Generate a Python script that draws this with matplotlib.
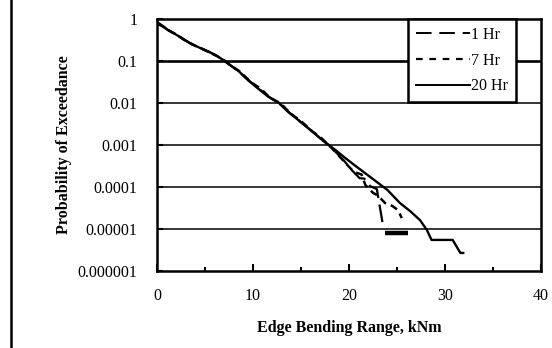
import matplotlib
matplotlib.use("Agg")
import matplotlib.pyplot as plt
import numpy as np
from matplotlib.lines import Line2D

# ---- data (probabilities as log10) ----
x_1hr = [0.1, 0.6, 1.2, 2.0, 2.7, 3.5, 4.5, 5.4, 6.25, 7.0, 7.6, 8.6, 9.6, 10.7, 11.7, 12.8,
         13.8, 14.9, 16.0, 17.0, 18.0, 18.75, 19.5, 20.3, 21.1, 21.6, 22.2, 22.9, 23.5]
logp_1hr = [-0.10, -0.17, -0.27, -0.37, -0.48, -0.58, -0.69, -0.78, -0.88, -0.99, -1.09, -1.27,
            -1.47, -1.68, -1.86, -2.02, -2.23, -2.44, -2.64, -2.84, -3.03, -3.20, -3.38, -3.60,
            -3.79, -3.80, -3.98, -4.05, -4.86]

x_7hr = [0.1, 0.7, 1.3, 2.1, 2.8, 3.6, 4.6, 5.5, 6.3, 7.1, 7.7, 8.7, 9.7, 10.8, 11.8, 12.9,
         13.9, 15.0, 16.1, 17.1, 18.1, 18.8, 19.6, 20.5, 21.3, 21.7, 22.5, 23.0, 23.75, 24.5,
         25.1, 25.5]
logp_7hr = [-0.12, -0.19, -0.28, -0.38, -0.49, -0.60, -0.70, -0.80, -0.89, -1.00, -1.11, -1.26,
            -1.49, -1.66, -1.88, -2.01, -2.25, -2.43, -2.66, -2.83, -3.05, -3.22, -3.42, -3.64,
            -3.70, -3.95, -4.14, -4.20, -4.38, -4.45, -4.55, -4.74]
x_7hr_tail = [23.75, 26.1]
logp_7hr_tail = [-5.10, -5.10]

x_20hr = [0.1, 0.5, 1.1, 1.9, 2.7, 3.4, 4.4, 5.3, 6.2, 6.9, 7.5, 8.5, 9.5, 10.6, 11.6, 12.7,
          13.7, 14.8, 15.9, 16.9, 17.9, 18.7, 19.5, 20.4, 22.2, 24.0, 25.3, 26.4, 27.4,
          28.1, 28.6, 30.8, 31.6, 31.9]
logp_20hr = [-0.09, -0.15, -0.26, -0.36, -0.47, -0.57, -0.68, -0.77, -0.87, -0.98, -1.08, -1.24,
             -1.46, -1.67, -1.85, -2.00, -2.22, -2.42, -2.63, -2.82, -3.00, -3.14, -3.29, -3.45,
             -3.76, -4.07, -4.38, -4.58, -4.79, -5.02, -5.26, -5.26, -5.57, -5.57]

series_labels = ["1 Hr", "7 Hr", "20 Hr"]
ytick_vals = [1, 0.1, 0.01, 0.001, 0.0001, 0.00001, 0.000001]
ytick_labels = ["1", "0.1", "0.01", "0.001", "0.0001", "0.00001", "0.000001"]
xtick_vals = [0, 10, 20, 30, 40]

plt.rcParams['font.family'] = ['Liberation Serif', 'DejaVu Serif']
FS = 11.5

fig = plt.figure(figsize=(5.52, 3.48), dpi=100)
ax = fig.add_axes([157/552, 77/348, 384/552, 252/348])

ax.set_yscale('log')
ax.set_xlim(0, 40)
ax.set_ylim(1e-6, 1)

for yv in ytick_vals[1:-1]:
    ax.axhline(yv, color='black', lw=(1.9 if yv == 0.1 else 1.1), zorder=1)

p1 = 10 ** np.array(logp_1hr)
p7 = 10 ** np.array(logp_7hr)
p7t = 10 ** np.array(logp_7hr_tail)
p20 = 10 ** np.array(logp_20hr)

ax.plot(x_20hr, p20, color='black', lw=1.7, ls='-', zorder=3)
ax.plot(x_1hr, p1, color='black', lw=1.6, ls=(0, (8, 3)), zorder=3)
ax.plot(x_7hr, p7, color='black', lw=1.8, ls=(0, (3, 2)), zorder=3)
ax.plot(x_7hr_tail, p7t, color='black', lw=3.2, ls='-', solid_capstyle='butt', zorder=3)

ax.set_yticks(ytick_vals)
ax.set_yticklabels(ytick_labels)
ax.yaxis.set_minor_locator(matplotlib.ticker.NullLocator())
ax.set_xticks(xtick_vals)
ax.set_xticks([5, 15, 25, 35], minor=True)

ax.tick_params(axis='y', which='major', direction='in', length=4, width=1.5, labelsize=FS, pad=14)
ax.tick_params(axis='x', which='major', direction='in', length=5, width=1.5, labelsize=FS, pad=12)
ax.tick_params(axis='x', which='minor', direction='in', length=3, width=1.5)

for s in ax.spines.values():
    s.set_linewidth(1.8)
    s.set_color('black')

ax.set_xlabel("Edge Bending Range, kNm", fontsize=FS, fontweight='bold', labelpad=12)
ax.set_ylabel("Probability of Exceedance", fontsize=FS, fontweight='bold', labelpad=4)

handles = [Line2D([], [], color='black', lw=1.4, ls=(0, (8, 4))),
           Line2D([], [], color='black', lw=1.6, ls=(0, (3, 3))),
           Line2D([], [], color='black', lw=1.4, ls='-')]
leg = ax.legend(handles, series_labels, loc='upper right', bbox_to_anchor=(0.935, 1.0),
                fontsize=FS, frameon=True, fancybox=False, framealpha=1, edgecolor='black',
                handlelength=3.4, handletextpad=0.05, labelspacing=0.6, borderpad=0.5,
                borderaxespad=0)
leg.get_frame().set_linewidth(1.8)

fig.add_artist(Line2D([11/552, 11/552], [0, 1], color='black', lw=1.8, transform=fig.transFigure))

fig.savefig("out.png", dpi=100)
